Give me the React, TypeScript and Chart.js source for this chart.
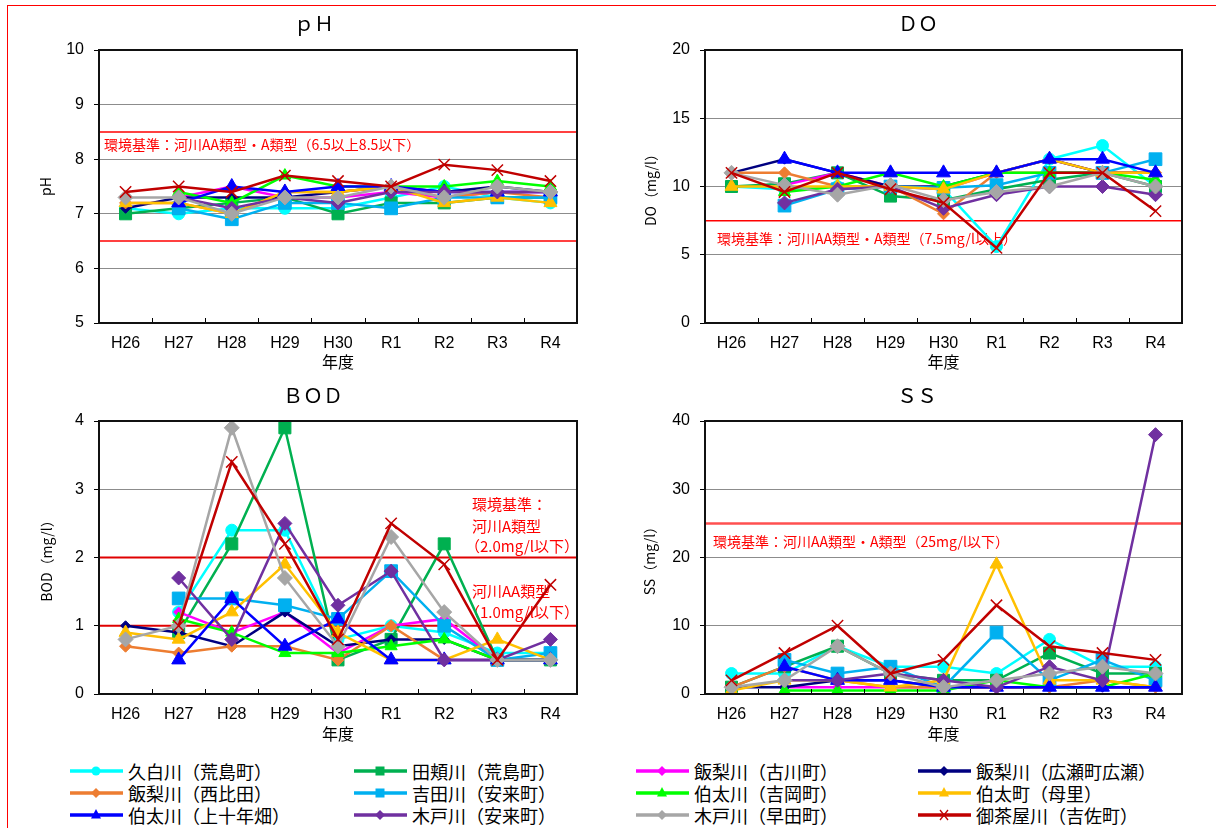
import React, { useEffect, useRef } from "react";
import { Chart, registerables } from "chart.js";
Chart.register(...registerables);

// ---------- categories ----------
const YEARS = ["H26", "H27", "H28", "H29", "H30", "R1", "R2", "R3", "R4"];

// ---------- series ----------
const SERIES_NAMES = [
  "久白川（荒島町）",
  "田頬川（荒島町）",
  "飯梨川（古川町）",
  "飯梨川（広瀬町広瀬）",
  "飯梨川（西比田）",
  "吉田川（安来町）",
  "伯太川（吉岡町）",
  "伯太町（母里）",
  "伯太川（上十年畑）",
  "木戸川（安来町）",
  "木戸川（早田町）",
  "御茶屋川（吉佐町）",
];
const SERIES_COLORS = [
  "#00FFFF", "#00B050", "#FF00FF", "#000080", "#ED7D31", "#00B0F0",
  "#00FF00", "#FFC000", "#0000FF", "#7030A0", "#A6A6A6", "#C00000",
];
const SERIES_MARKERS = [
  "circle", "rect", "rectRot", "rectRot", "rectRot", "rect",
  "triangle", "triangle", "triangle", "rectRot", "rectRot", "crossRot",
];
const MARKER_RADII = [6, 8.5, 5, 5, 6, 9, 7, 7.5, 8, 7, 7.5, 8];

// ---------- values (order of SERIES_NAMES, H26..R4) ----------
const PH_VALUES: (number | null)[][] = [
  [7.1, 7.0, 7.1, 7.1, 7.1, 7.3, 7.5, 7.3, 7.2],
  [7.0, 7.1, 7.2, 7.3, 7.0, 7.2, 7.2, 7.3, 7.3],
  [null, 7.3, 7.5, 7.3, 7.3, 7.4, 7.3, 7.4, 7.4],
  [7.1, 7.3, 7.3, 7.3, 7.4, 7.5, 7.4, 7.5, 7.4],
  [7.2, 7.2, 7.0, 7.4, 7.4, 7.5, 7.3, 7.4, 7.3],
  [null, 7.1, 6.9, 7.2, 7.2, 7.1, 7.3, 7.3, 7.3],
  [null, 7.4, 7.2, 7.7, 7.5, 7.5, 7.5, 7.6, 7.5],
  [7.2, 7.2, 7.0, 7.4, 7.4, 7.5, 7.2, 7.3, 7.2],
  [null, 7.2, 7.5, 7.4, 7.5, 7.5, 7.4, 7.4, 7.4],
  [null, 7.3, 7.1, 7.3, 7.2, 7.4, 7.4, 7.4, 7.4],
  [7.3, 7.3, 7.0, 7.3, 7.3, 7.5, 7.3, 7.5, 7.4],
  [7.4, 7.5, 7.4, 7.7, 7.6, 7.5, 7.9, 7.8, 7.6],
];
const DO_VALUES: (number | null)[][] = [
  [10, 9.8, 10, 10, 9.8, 5.6, 12, 13, 10],
  [10, 10.2, 11, 9.3, 9.0, 9.8, 10.5, 11, 10],
  [null, 10.1, 11, 10, 9.8, 11, 12, 11, 11],
  [11, 12, 11, 10, 10, 11, 12, 11, 11],
  [11, 11, 10, 10, 8.0, 11, 11, 11, 11],
  [null, 8.6, 9.8, 10, 9.9, 10.1, 11, 11, 12],
  [null, 9.6, 10, 11, 10, 11, 11, 11, 10.5],
  [10, 10, 10, 10, 9.8, 11, 12, 11, 11],
  [null, 12, 11, 11, 11, 11, 12, 12, 11],
  [null, 8.8, 9.8, 10, 8.4, 9.4, 10, 10, 9.4],
  [11, 10.1, 9.4, 10.1, 9.0, 9.6, 10, 11, 10],
  [11, 9.6, 11, 9.8, 8.8, 5.5, 11, 11, 8.2],
];
const BOD_VALUES: (number | null)[][] = [
  [null, 1.2, 2.4, 2.4, 0.8, 1.0, 0.9, 0.6, 0.6],
  [null, 0.9, 2.2, 3.9, 0.5, 0.8, 2.2, 0.5, 0.5],
  [null, 1.2, 0.9, 1.2, 0.6, 1.0, 1.1, 0.5, 0.5],
  [1.0, 0.9, 0.7, 1.2, 0.7, 0.8, 0.8, 0.5, 0.5],
  [0.7, 0.6, 0.7, 0.7, 0.5, 1.0, 0.5, 0.5, 0.5],
  [null, 1.4, 1.4, 1.3, 1.1, 1.8, 1.0, 0.5, 0.6],
  [null, 1.1, 0.9, 0.6, 0.6, 0.7, 0.8, 0.5, 0.5],
  [0.9, 0.8, 1.2, 1.9, 0.9, 0.5, 0.5, 0.8, 0.5],
  [null, 0.5, 1.4, 0.7, 1.1, 0.5, 0.5, 0.5, 0.5],
  [null, 1.7, 0.8, 2.5, 1.3, 1.8, 0.5, 0.5, 0.8],
  [0.8, 1.0, 3.9, 1.7, 0.7, 2.3, 1.2, 0.5, 0.5],
  [null, 1.0, 3.4, 2.2, 0.8, 2.5, 1.9, 0.5, 1.6],
];
const SS_VALUES: (number | null)[][] = [
  [3, 3, 7, 4, 4, 3, 8, 4, 4],
  [1, 4, 7, 3, 2, 2, 6, 3, 3],
  [null, 1, 1, 1, 1, 1, 1, 1, 1],
  [1, 1, 2, 2, 1, 1, 1, 1, 1],
  [1, 4, 2, 1, 1, 1, 1, 2, 1],
  [null, 5, 3, 4, 1, 9, 2, 5, 2],
  [null, 0.5, 0.5, 0.5, 0.5, 2, 1, 1, 3],
  [0.5, 2, 2, 1, 2, 19, 2, 2, 1],
  [null, 4, 2, 2, 1, 1, 1, 1, 1],
  [null, 2, 2, 3, 2, 1, 4, 2, 38],
  [1, 2, 7, 3, 1, 2, 3, 4, 3],
  [2, 6, 10, 3, 5, 13, 7, 6, 5],
];

// ---------- environmental standards ----------
const PH_STANDARDS = [6.5, 8.5];
const DO_STANDARDS = [7.5];
const BOD_STANDARDS = [2.0, 1.0];
const SS_STANDARDS = [25];

const PH_NOTES = ["環境基準：河川AA類型・A類型（6.5以上8.5以下）"];
const DO_NOTES = ["環境基準：河川AA類型・A類型（7.5mg/l以上）"];
const BOD_NOTES = ["環境基準：", "河川A類型", "（2.0mg/l以下）", "河川AA類型", "（1.0mg/l以下）"];
const SS_NOTES = ["環境基準：河川AA類型・A類型（25mg/l以下）"];

const CJK = "'Noto Sans CJK JP', 'Noto Sans', sans-serif";
const LATIN = "'Liberation Sans', Arial, sans-serif";

const W = 608;
const H = 375;

type Panel = {
  title: string;
  yTitle: string;
  min: number;
  max: number;
  step: number;
  values: (number | null)[][];
  standards: number[];
  stdColor: string;
  stdWidth: number;
  notes: string[];
  notePos: [number, number][];
  noteSize: number;
  left: number;
  top: number;
  frame: { l: number; r: number; t: number; b: number };
  yTitleX: number;
  titleX: number;
  titleY: number;
};

const PANELS: Panel[] = [
  {
    title: "ｐＨ", yTitle: "pH", min: 5, max: 10, step: 1, values: PH_VALUES,
    standards: PH_STANDARDS, stdColor: "#FF0000", stdWidth: 1.5,
    notes: PH_NOTES, notePos: [[104, 145]], noteSize: 14,
    left: 0, top: 0, frame: { l: 99, r: 577, t: 50, b: 323 },
    yTitleX: 46, titleX: 314, titleY: 23,
  },
  {
    title: "ＤＯ", yTitle: "DO（mg/l）", min: 0, max: 20, step: 5, values: DO_VALUES,
    standards: DO_STANDARDS, stdColor: "#FF0000", stdWidth: 1.5,
    notes: DO_NOTES, notePos: [[109, 239]], noteSize: 14,
    left: 608, top: 0, frame: { l: 97, r: 574, t: 50, b: 323 },
    yTitleX: 43, titleX: 310, titleY: 23,
  },
  {
    title: "ＢＯＤ", yTitle: "BOD（mg/l）", min: 0, max: 4, step: 1, values: BOD_VALUES,
    standards: BOD_STANDARDS, stdColor: "#E00000", stdWidth: 2,
    notes: BOD_NOTES,
    notePos: [[472, 132], [472, 154], [465, 174], [472, 219], [465, 240]],
    noteSize: 15,
    left: 0, top: 372, frame: { l: 99, r: 577, t: 49, b: 322 },
    yTitleX: 47, titleX: 313, titleY: 23,
  },
  {
    title: "ＳＳ", yTitle: "SS（mg/l）", min: 0, max: 40, step: 10, values: SS_VALUES,
    standards: SS_STANDARDS, stdColor: "#FF5050", stdWidth: 2.5,
    notes: SS_NOTES, notePos: [[105, 170]], noteSize: 14,
    left: 608, top: 372, frame: { l: 97, r: 574, t: 49, b: 322 },
    yTitleX: 42, titleX: 309, titleY: 23,
  },
];

function makeOverlay(p: Panel) {
  return {
    id: "overlay",
    beforeDatasetsDraw(chart: any) {
      const { ctx, chartArea: a, scales } = chart;
      ctx.save();
      ctx.strokeStyle = p.stdColor;
      ctx.lineWidth = p.stdWidth;
      for (const v of p.standards) {
        const py = scales.y.getPixelForValue(v);
        ctx.beginPath();
        ctx.moveTo(a.left, py);
        ctx.lineTo(a.right, py);
        ctx.stroke();
      }
      ctx.fillStyle = "#FF0000";
      ctx.font = `${p.noteSize}px ${CJK}`;
      ctx.textAlign = "left";
      ctx.textBaseline = "middle";
      p.notes.forEach((t, i) => {
        const [x, y] = p.notePos[i];
        ctx.fillText(t, x, y);
      });
      ctx.restore();
    },
    afterDatasetsDraw(chart: any) {
      const { ctx, chartArea: a } = chart;
      ctx.save();
      ctx.strokeStyle = "#000";
      ctx.lineWidth = 1;
      const n = YEARS.length;
      const step = (a.right - a.left) / n;
      for (let i = 1; i < n; i++) {
        const x = Math.round(a.left + i * step) + 0.5;
        ctx.beginPath();
        ctx.moveTo(x, a.bottom);
        ctx.lineTo(x, a.bottom - 5);
        ctx.stroke();
      }
      ctx.lineWidth = 2;
      ctx.strokeStyle = "#111";
      ctx.strokeRect(a.left, a.top, a.right - a.left, a.bottom - a.top);
      ctx.restore();
    },
    afterDraw(chart: any) {
      const { ctx } = chart;
      ctx.save();
      ctx.fillStyle = "#000";
      ctx.font = `20px ${CJK}`;
      ctx.textAlign = "center";
      ctx.textBaseline = "middle";
      ctx.fillText(p.title, p.titleX, p.titleY);
      ctx.restore();
    },
  };
}

function PanelChart({ p }: { p: Panel }) {
  const ref = useRef<HTMLCanvasElement | null>(null);
  useEffect(() => {
    if (!ref.current) return;
    const f = p.frame;
    const chart = new Chart(ref.current, {
      type: "line",
      data: {
        labels: YEARS,
        datasets: SERIES_NAMES.map((name, i) => ({
          label: name,
          data: p.values[i],
          borderColor: SERIES_COLORS[i],
          backgroundColor: SERIES_COLORS[i],
          pointBackgroundColor: SERIES_COLORS[i],
          pointBorderColor: SERIES_COLORS[i],
          pointStyle: SERIES_MARKERS[i] as any,
          pointRadius: MARKER_RADII[i],
          pointBorderWidth: i === 11 ? 1.5 : 1,
          borderWidth: 2.5,
          tension: 0,
          spanGaps: false,
          order: SERIES_NAMES.length - i,
          clip: 0,
        })),
      },
      options: {
        responsive: false,
        animation: false,
        devicePixelRatio: 1,
        layout: { padding: { left: 0, top: f.t, right: W - f.r, bottom: 0 } },
        plugins: { legend: { display: false }, tooltip: { enabled: false }, title: { display: false } },
        scales: {
          x: {
            type: "category",
            offset: true,
            grid: { display: false, drawTicks: false },
            border: { display: false },
            ticks: { color: "#000", font: { family: LATIN, size: 16 }, padding: 11, maxRotation: 0, autoSkip: false },
            title: { display: true, text: "年度", color: "#000", font: { family: CJK, size: 16 }, padding: { top: 0, bottom: 3 } },
            afterFit: (s: any) => { s.height = H - f.b; },
          },
          y: {
            min: p.min,
            max: p.max,
            ticks: { stepSize: p.step, color: "#000", font: { family: LATIN, size: 16 }, padding: 10 },
            grid: { color: "#8c8c8c", lineWidth: 1, tickLength: 5, tickColor: "#000", drawTicks: true },
            border: { display: false },
            title: { display: true, text: p.yTitle, color: "#000", font: { family: CJK, size: 14 }, padding: { top: p.yTitleX - 8.4, bottom: 0 } },
            afterFit: (s: any) => { s.width = f.l; },
          },
        },
      } as any,
      plugins: [makeOverlay(p)],
    });
    return () => chart.destroy();
  }, [p]);
  return (
    <canvas
      ref={ref}
      width={W}
      height={H}
      style={{ position: "absolute", left: p.left, top: p.top, width: W, height: H }}
    />
  );
}

function LegendMarker({ i }: { i: number }) {
  const c = SERIES_COLORS[i];
  const m = SERIES_MARKERS[i];
  const cx = 26, cy = 8;
  let shape: any = null;
  if (m === "circle") shape = <circle cx={cx} cy={cy} r={4.5} fill={c} />;
  else if (m === "rect") shape = <rect x={cx - 4.5} y={cy - 4.5} width={9} height={9} fill={c} />;
  else if (m === "rectRot") shape = <polygon points={`${cx - 5},${cy} ${cx},${cy - 5} ${cx + 5},${cy} ${cx},${cy + 5}`} fill={c} />;
  else if (m === "triangle") shape = <polygon points={`${cx},${cy - 6} ${cx + 5},${cy + 3.5} ${cx - 5},${cy + 3.5}`} fill={c} />;
  else shape = (
    <g stroke={c} strokeWidth={1.3}>
      <line x1={cx - 4} y1={cy - 5} x2={cx + 4} y2={cy + 5} />
      <line x1={cx + 4} y1={cy - 5} x2={cx - 4} y2={cy + 5} />
    </g>
  );
  return (
    <svg width={53} height={16} style={{ position: "absolute", left: 0, top: 3 }}>
      <line x1={0} y1={cy} x2={53} y2={cy} stroke={c} strokeWidth={3.5} />
      {shape}
    </svg>
  );
}

const LEGEND_COL_X = [70, 354, 636, 918];
const LEGEND_ROW_Y = [760, 782, 804];

export default function App() {
  return (
    <div style={{ position: "absolute", left: 0, top: 0, width: 1216, height: 828, overflow: "hidden", background: "#fff" }}>
      <div style={{ position: "absolute", left: 7, top: 5, width: 1240, height: 860, border: "1px solid #FF0000" }} />
      {PANELS.map((p, k) => (
        <PanelChart key={k} p={p} />
      ))}
      {SERIES_NAMES.map((name, i) => (
        <div
          key={name}
          style={{
            position: "absolute",
            left: LEGEND_COL_X[i % 4],
            top: LEGEND_ROW_Y[Math.floor(i / 4)],
            height: 22,
            width: 280,
          }}
        >
          <LegendMarker i={i} />
          <span
            style={{
              position: "absolute",
              left: 58,
              top: 0,
              fontFamily: CJK,
              fontSize: 18,
              lineHeight: "22px",
              color: "#000",
              whiteSpace: "nowrap",
            }}
          >
            {name}
          </span>
        </div>
      ))}
    </div>
  );
}
